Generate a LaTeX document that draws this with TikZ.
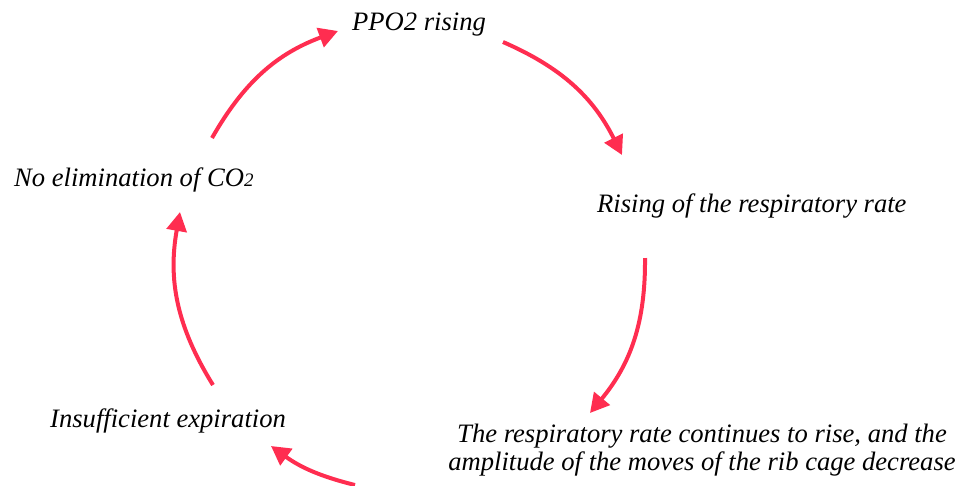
\documentclass[tikz,border=0pt]{standalone}
\usepackage{fontspec}
\setmainfont{Liberation Serif}
\usetikzlibrary{arrows.meta}
\definecolor{cyclered}{RGB}{255,45,80}
\tikzset{
  label/.style={font=\fontsize{26.6}{28}\selectfont\itshape, inner sep=0pt},
  flow/.style={draw=cyclered, line width=4pt, -{Triangle[length=19pt,width=20pt]}}
}

\begin{document}
\begin{tikzpicture}[x=1pt,y=1pt]
        \useasboundingbox (0,0) rectangle (973,-485);
        \node[label, anchor=base west] (ppo) at (352,-30) {PPO2 rising};
        \node[label, anchor=base west] (rate) at (597,-212) {Rising of the respiratory rate};
        \node[label, anchor=base, align=center] (rise) at (702,-470) {The respiratory rate continues to rise, and the\\amplitude of the moves of the rib cage decrease};
        \node[label, anchor=base west] (insuff) at (50,-427) {Insufficient expiration};
        \node[label, anchor=base west] (noelim) at (14,-186) {No elimination of CO{\fontsize{19}{19}\selectfont 2}};
        % arrow ends round the cycle
        \coordinate (a1) at (503,-42);
        \coordinate (b1) at (622,-155);
        \coordinate (a2) at (645,-258);
        \coordinate (b2) at (590,-413);
        \coordinate (a3) at (355,-485);
        \coordinate (b3) at (271,-446);
        \coordinate (a4) at (213,-385);
        \coordinate (b4) at (180,-212);
        \coordinate (a5) at (212,-138);
        \coordinate (b5) at (338,-31);
        \draw[flow] (a1) to[bend left=20] (b1);
        \draw[flow] (a2) to[bend left=20] (b2);
        \draw[flow] (a3) to[bend left=11] (b3);
        \draw[flow] (a4) to[bend left=21] (b4);
        \draw[flow] (a5) to[bend left=20] (b5);
    \end{tikzpicture}
\end{document}
